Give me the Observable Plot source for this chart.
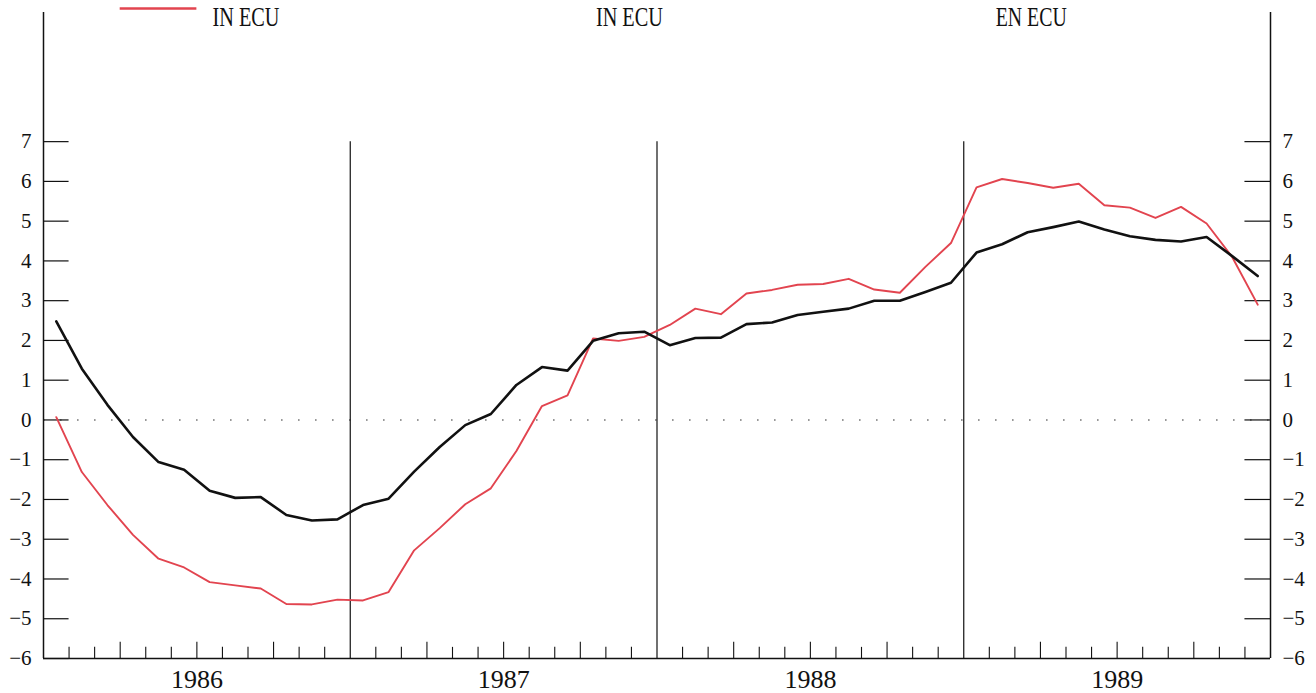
<!DOCTYPE html>
<html>
<head>
<meta charset="utf-8">
<script src="https://cdn.jsdelivr.net/npm/d3@7"></script>
<script src="https://cdn.jsdelivr.net/npm/@observablehq/plot@0.6"></script>
<style>
  body { margin: 0; background: #fff; }
  #chart svg { display: block; }
</style>
</head>
<body>
<div id="chart"></div>
<script>
// ---- data (monthly, Jan 1986 – Dec 1989) ----
const years = [1986, 1987, 1988, 1989];

const blackValues = [
  // 1986
  2.48, 1.29, 0.38, -0.43, -1.06, -1.25, -1.78, -1.96, -1.94, -2.39, -2.53, -2.50,
  // 1987
  -2.14, -1.98, -1.30, -0.68, -0.13, 0.15, 0.88, 1.33, 1.24, 1.99, 2.18, 2.22,
  // 1988
  1.88, 2.06, 2.07, 2.41, 2.45, 2.64, 2.72, 2.80, 3.00, 3.00, 3.22, 3.45,
  // 1989
  4.21, 4.42, 4.72, 4.85, 4.99, 4.79, 4.62, 4.53, 4.49, 4.60, 4.12, 3.62
];

const redValues = [
  // 1986
  0.07, -1.31, -2.14, -2.89, -3.49, -3.71, -4.08, -4.16, -4.24, -4.63, -4.64, -4.52,
  // 1987
  -4.54, -4.33, -3.28, -2.72, -2.12, -1.72, -0.78, 0.35, 0.62, 2.05, 1.99, 2.09,
  // 1988
  2.39, 2.80, 2.66, 3.18, 3.27, 3.40, 3.42, 3.55, 3.28, 3.20, 3.85, 4.45,
  // 1989
  5.85, 6.06, 5.96, 5.84, 5.94, 5.40, 5.34, 5.08, 5.36, 4.94, 4.10, 2.90
];

const yTickValues = [-6, -5, -4, -3, -2, -1, 0, 1, 2, 3, 4, 5, 6, 7];
const legendTexts = ["IN ECU", "IN ECU", "EN ECU"];
const legendAt = [1986.66, 1987.91, 1989.22];

// ---- derived tables ----
const start = years[0], end = years[years.length - 1] + 1;
const monthPos = i => start + (i + 0.5) / 12;
const black = blackValues.map((v, i) => ({t: monthPos(i), v}));
const red = redValues.map((v, i) => ({t: monthPos(i), v}));
const monthTicks = d3.range(1, 48).filter(k => k % 12 !== 0).map(k => ({t: start + k / 12, q: k % 3 === 0}));
const yearMids = years.map(y => y + 0.5);
const legend = legendTexts.map((s, i) => ({s, x: legendAt[i]}));

const RED = "#e2444f";
const yMin = -6, yMaxTick = 7, frameTop = 10.25;
const fmt = d => d < 0 ? "\u2212" + Math.abs(d) : String(d);

const chart = Plot.plot({
  width: 1316,
  height: 693,
  marginTop: 0,
  marginBottom: 35,
  marginLeft: 43,
  marginRight: 46,
  style: {fontFamily: "'Liberation Serif', serif", background: "#fff", color: "#111"},
  x: {type: "linear", domain: [start, end]},
  y: {type: "linear", domain: [yMin, 10.55]},
  marks: [
    // zero dotted line
    Plot.ruleY([0], {x1: start, x2: end, stroke: "#777", strokeWidth: 1.6, strokeDasharray: "1.6,15.4"}),
    // year dividers
    Plot.ruleX(years.slice(1), {y1: yMin, y2: yMaxTick, stroke: "#111", strokeWidth: 1.2}),
    // frame
    Plot.ruleX([start, end], {y1: yMin, y2: frameTop, stroke: "#111", strokeWidth: 1.5}),
    Plot.ruleY([yMin], {x1: start, x2: end, stroke: "#111", strokeWidth: 1.5}),
    // y tick marks inside, both sides
    Plot.ruleY(yTickValues, {x1: start, x2: start + 1 / 12, stroke: "#111", strokeWidth: 1.2}),
    Plot.ruleY(yTickValues, {x1: end - 1 / 12, x2: end, stroke: "#111", strokeWidth: 1.2}),
    // x month ticks
    Plot.ruleX(monthTicks, {x: "t", y1: yMin, y2: d => yMin + (d.q ? 0.41 : 0.28), stroke: "#111", strokeWidth: 1.1}),
    // series
    Plot.line(red, {x: "t", y: "v", stroke: RED, strokeWidth: 1.9, curve: "linear"}),
    Plot.line(black, {x: "t", y: "v", stroke: "#111", strokeWidth: 2.6, curve: "linear"}),
    // axes labels
    Plot.axisY(yTickValues, {anchor: "left", label: null, tickSize: 0, tickPadding: 12, fontSize: 21, tickFormat: fmt}),
    Plot.axisY(yTickValues, {anchor: "right", label: null, tickSize: 0, tickPadding: 12, fontSize: 21, tickFormat: fmt}),
    Plot.axisX(yearMids, {anchor: "bottom", label: null, tickSize: 0, tickPadding: 11, fontSize: 26, tickFormat: d => String(Math.floor(d))}),
    // legend
    Plot.ruleY([10.35], {x1: start + 0.25, x2: start + 0.5, stroke: RED, strokeWidth: 2.6}),
    Plot.text(legend, {x: "x", y: 10.12, text: "s", fontSize: 27, fill: "#111"})
  ]
});

chart.querySelectorAll("text").forEach(t => {
  if (/ECU/.test(t.textContent)) {
    t.setAttribute("textLength", t.textContent.startsWith("EN") ? 71 : 67);
    t.setAttribute("lengthAdjust", "spacingAndGlyphs");
  }
});

document.getElementById("chart").appendChild(chart);
</script>
</body>
</html>
